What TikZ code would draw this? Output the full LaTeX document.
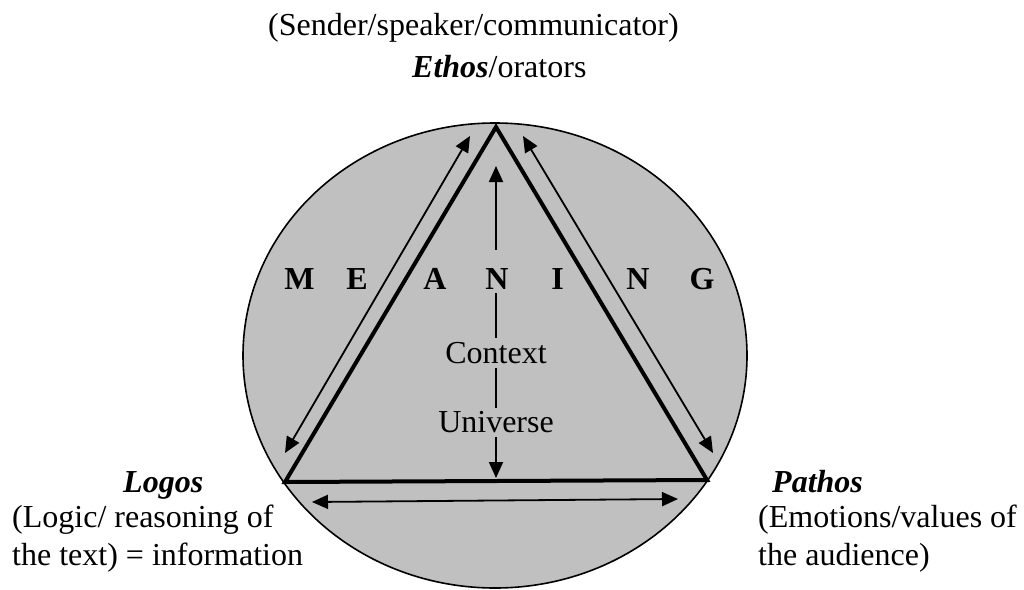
\documentclass[tikz,border=0pt]{standalone}
\usepackage{fontspec}
\setmainfont{Liberation Serif}
\usetikzlibrary{arrows.meta}
\definecolor{disc}{HTML}{C0C0C0}
\begin{document}
\begin{tikzpicture}[x=1pt,y=-1pt,
  every node/.style={font=\fontsize{32}{37}\selectfont, inner sep=0pt},
  edge/.style={line width=4pt, line join=miter},
  link/.style={line width=1.8pt,
    {Triangle[length=16pt,width=14pt]}-{Triangle[length=16pt,width=14pt]}},
  caption/.style={anchor=base west},
  letter/.style={font=\fontsize{32}{37}\selectfont\bfseries, anchor=base},
  onaxis/.style={anchor=base, fill=disc, inner xsep=3pt},
]
\useasboundingbox (0,0) rectangle (1024,589);

% background disc
\draw[line width=1.6pt, fill=disc] (495,355.5) ellipse [x radius=252pt, y radius=232.5pt];

% rhetorical triangle
\coordinate (apex) at (496,127);
\coordinate (left) at (285,482);
\coordinate (right) at (707,480);
\draw[edge] (apex) -- (left) -- (right) -- cycle;

% arrows along the sides
\coordinate (la) at (470,136);
\coordinate (lb) at (285,453);
\coordinate (ra) at (523,136);
\coordinate (rb) at (713,453);
\coordinate (ba) at (312,502);
\coordinate (bb) at (678,499);
\coordinate (va) at (496,166);
\coordinate (vb) at (496,478);
\draw[link] (la) -- (lb);
\draw[link] (ra) -- (rb);
\draw[link] (ba) -- (bb);
\draw[link] (va) -- (vb);

% MEANING across the disc
\node[letter] (m1) at (299.5,289) {M};
\node[letter] (m2) at (357,289) {E};
\node[letter] (m3) at (435,289) {A};
\node[letter, fill=disc, inner xsep=3pt, text height=39pt, text depth=4pt] (m4) at (497,289) {N};
\node[letter] (m5) at (557.5,289) {I};
\node[letter] (m6) at (638,289) {N};
\node[letter] (m7) at (702,289) {G};

% labels on the axis
\node[onaxis, text height=25pt, text depth=5pt] (context) at (496,363) {Context};
\node[onaxis, text height=24pt, text depth=5pt] (universe) at (496,432) {Universe};

% corner labels
\node[caption] (sender) at (268,35) {(Sender/speaker/communicator)};
\node[caption] (ethos) at (412,77) {\textbf{\textit{Ethos}}/orators};

\node[caption] (logos) at (123,492) {\textbf{\textit{Logos}}};
\node[caption] (logos2) at (12,527) {(Logic/ reasoning of};
\node[caption] (logos3) at (12,565) {the text) = information};

\node[caption] (pathos) at (772,492) {\textbf{\textit{Pathos}}};
\node[caption] (pathos2) at (758,527) {(Emotions/values of};
\node[caption] (pathos3) at (758,565) {the audience)};
\end{tikzpicture}
\end{document}
